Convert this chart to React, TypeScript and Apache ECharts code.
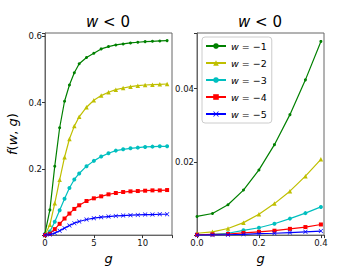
import React, { useEffect, useRef } from "react";
import * as echarts from "echarts";

const gLeft = [0, 0.5, 1, 1.5, 2, 2.5, 3, 3.5, 4.25, 5, 5.75, 6.5, 7.25, 8, 8.75, 9.5, 10.25, 11, 11.75, 12.5];
const fLeft1 = [0.005, 0.076, 0.208, 0.324, 0.404, 0.453, 0.49, 0.517, 0.536, 0.549, 0.562, 0.569, 0.574, 0.577, 0.58, 0.582, 0.584, 0.585, 0.586, 0.587];
const fLeft2 = [0.0005, 0.031, 0.096, 0.167, 0.235, 0.29, 0.329, 0.357, 0.386, 0.407, 0.421, 0.431, 0.439, 0.444, 0.448, 0.451, 0.453, 0.454, 0.455, 0.456];
const fLeft3 = [0.0001, 0.011, 0.04, 0.075, 0.11, 0.142, 0.168, 0.186, 0.208, 0.224, 0.237, 0.247, 0.255, 0.259, 0.262, 0.264, 0.266, 0.267, 0.268, 0.268];
const fLeft4 = [0.0001, 0.004, 0.018, 0.034, 0.05, 0.065, 0.079, 0.09, 0.103, 0.111, 0.117, 0.123, 0.127, 0.13, 0.132, 0.133, 0.134, 0.135, 0.135, 0.136];
const fLeft5 = [0, 0.0015, 0.006, 0.013, 0.021, 0.029, 0.036, 0.041, 0.047, 0.051, 0.054, 0.056, 0.058, 0.059, 0.06, 0.061, 0.062, 0.062, 0.063, 0.063];

const gRight = [0, 0.05, 0.1, 0.15, 0.2, 0.25, 0.3, 0.35, 0.4];
const fRight1 = [0.0051, 0.0059, 0.0083, 0.0123, 0.0178, 0.0247, 0.0329, 0.0424, 0.0529];
const fRight2 = [0.0005, 0.0009, 0.0018, 0.0034, 0.0057, 0.0086, 0.012, 0.0161, 0.0207];
const fRight3 = [0.0001, 0.0002, 0.0005, 0.0013, 0.002, 0.0031, 0.0045, 0.006, 0.0077];
const fRight4 = [0.0001, 0.0002, 0.0003, 0.0006, 0.0009, 0.0012, 0.0017, 0.0022, 0.0029];
const fRight5 = [0, 0.00005, 0.0001, 0.0002, 0.0004, 0.0005, 0.0007, 0.0009, 0.0011];

const seriesNames = ["w = −1", "w = −2", "w = −3", "w = −4", "w = −5"];
const leftXTicks = [0, 5, 10];
const leftYTicks = [0.2, 0.4, 0.6];
const rightXTicks = [0, 0.2, 0.4];
const rightYTicks = [0.02, 0.04];

const colors = ["#008000", "#bfbf00", "#00bfbf", "#ff0000", "#0000ff"];
const crossPath = "path://M0,1L1,0L5,4L9,0L10,1L6,5L10,9L9,10L5,6L1,10L0,9L4,5Z";
const symbols = ["circle", "triangle", "circle", "rect", crossPath];
const symbolSizes = [3, 4.5, 4, 4, 4.5];

const FONT = "DejaVu Sans";

function tickFormatter(ticks: number[], digits: number) {
  return (v: number) => {
    const hit = ticks.find((t) => Math.abs(t - v) < 1e-9);
    return hit === undefined ? "" : hit.toFixed(digits);
  };
}

export default function App() {
  const ref = useRef<HTMLDivElement>(null);
  useEffect(() => {
    if (!ref.current) return;
    const chart = echarts.init(ref.current, undefined, { renderer: "svg" });
    const leftData = [fLeft1, fLeft2, fLeft3, fLeft4, fLeft5];
    const rightData = [fRight1, fRight2, fRight3, fRight4, fRight5];
    const mkSeries = (data: number[][], xs: number[], idx: number) =>
      data.map((vals, i) => ({
        name: seriesNames[i],
        type: "line",
        xAxisIndex: idx,
        yAxisIndex: idx,
        data: xs.map((x, j) => [x, vals[j]]),
        symbol: symbols[i],
        symbolSize: symbolSizes[i],
        showSymbol: true,
        showAllSymbol: true,
        lineStyle: { color: colors[i], width: 1.2 },
        itemStyle: { color: colors[i] },
        z: 2 + i,
      }));
    const axisCommon = {
      axisLine: { show: true, lineStyle: { color: "#666", width: 1 } },
      axisTick: { show: true, inside: false, length: 3, lineStyle: { color: "#333" } },
      splitLine: { show: false },
    };
    const labelStyle = { color: "#111", fontFamily: FONT, fontSize: 8.5, margin: 3 };
    const nameStyle = {
      fontFamily: FONT,
      fontSize: 13,
      color: "#000",
      fontStyle: "italic",
    };
    const titleRich = {
      i: { fontFamily: FONT, fontSize: 15, fontStyle: "italic", fontWeight: "normal", color: "#000" },
      n: { fontFamily: FONT, fontSize: 15, fontWeight: "normal", color: "#000" },
    };
    chart.setOption({
      animation: false,
      backgroundColor: "#fff",
      title: [
        { text: "{i|w}{n| < 0}", left: 108, top: 14, textAlign: "center", padding: 0, textStyle: { fontWeight: "normal", rich: titleRich } },
        { text: "{i|w}{n| < 0}", left: 260, top: 14, textAlign: "center", padding: 0, textStyle: { fontWeight: "normal", rich: titleRich } },
      ],
      grid: [
        { left: 45, top: 33, width: 127, height: 207, show: true, borderColor: "#666", borderWidth: 1, backgroundColor: "transparent" },
        { left: 197, top: 33, width: 127, height: 207, show: true, borderColor: "#666", borderWidth: 1, backgroundColor: "transparent" },
      ],
      xAxis: [
        {
          type: "value", gridIndex: 0, min: 0, max: 13, interval: 5, ...axisCommon,
          axisLabel: { ...labelStyle, formatter: tickFormatter(leftXTicks, 0), showMaxLabel: true, showMinLabel: true },
          name: "g", nameLocation: "middle", nameGap: 16, nameTextStyle: nameStyle,
        },
        {
          type: "value", gridIndex: 1, min: 0, max: 0.41, interval: 0.2, ...axisCommon,
          axisLabel: { ...labelStyle, formatter: tickFormatter(rightXTicks, 1), showMaxLabel: true, showMinLabel: true },
          name: "g", nameLocation: "middle", nameGap: 16, nameTextStyle: nameStyle,
        },
      ],
      yAxis: [
        {
          type: "value", gridIndex: 0, min: 0, max: 0.61, interval: 0.2, ...axisCommon,
          axisLabel: { ...labelStyle, formatter: tickFormatter(leftYTicks, 1), showMaxLabel: true, showMinLabel: true },
          name: "{i|f}{n|(}{i|w}{n|, }{i|g}{n|)}", nameLocation: "middle", nameGap: 26, nameRotate: 90,
          nameTextStyle: {
            rich: {
              i: { fontFamily: FONT, fontSize: 13, fontStyle: "italic", color: "#000" },
              n: { fontFamily: FONT, fontSize: 13, color: "#000" },
            },
          },
        },
        {
          type: "value", gridIndex: 1, min: 0, max: 0.0552, interval: 0.02, ...axisCommon,
          axisLabel: { ...labelStyle, formatter: tickFormatter(rightYTicks, 2), showMaxLabel: true, showMinLabel: true },
        },
      ],
      legend: {
        orient: "vertical",
        left: 202,
        top: 37,
        padding: [4, 5, 4, 3],
        itemWidth: 20,
        itemHeight: 7,
        itemGap: 7,
        backgroundColor: "rgba(255,255,255,0.85)",
        borderColor: "#ccc",
        borderWidth: 1,
        borderRadius: 3,
        data: seriesNames,
        formatter: (name: string) => "{i|w}{n|" + name.slice(1) + "}",
        textStyle: {
          rich: {
            i: { fontFamily: FONT, fontSize: 9.5, fontStyle: "italic", color: "#000" },
            n: { fontFamily: FONT, fontSize: 9.5, color: "#000" },
          },
        },
      },
      series: [...mkSeries(leftData, gLeft, 0), ...mkSeries(rightData, gRight, 1)],
    });
    return () => chart.dispose();
  }, []);
  return <div ref={ref} style={{ position: "fixed", left: 0, top: 0, width: 360, height: 270 }} />;
}
